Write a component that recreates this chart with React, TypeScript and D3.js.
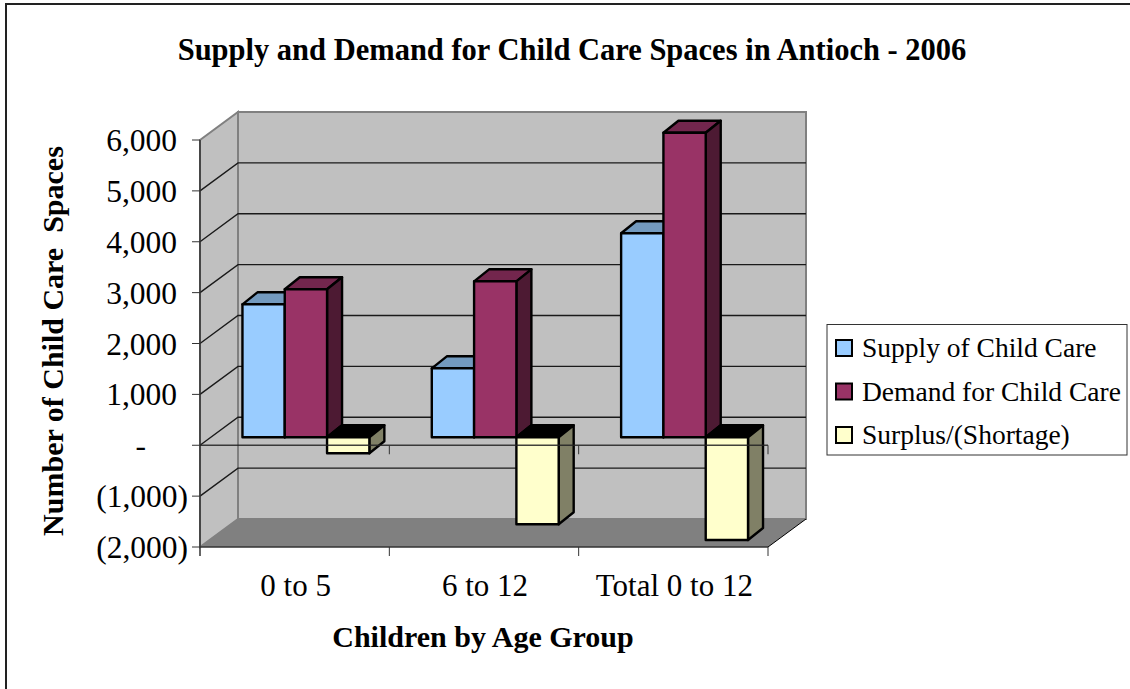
import * as d3 from 'd3';

const categories = ['0 to 5', '6 to 12', 'Total 0 to 12'];
const seriesNames = ['Supply of Child Care', 'Demand for Child Care', 'Surplus/(Shortage)'];
const supply = [2613, 1355, 4010];
const demand = [2908, 3065, 5985];
const surplus = [-314, -1710, -2020];
const seriesValues = [supply, demand, surplus];
const seriesColors = ['#99CCFF', '#993366', '#FFFFCC'];
const topColors = ['#739ABF', '#73264D', '#000000'];
const sideColors = ['#4D6680', '#4D1A33', '#808066'];
const yTicks = [6000, 5000, 4000, 3000, 2000, 1000, 0, -1000, -2000];
const yTickLabels = ['6,000', '5,000', '4,000', '3,000', '2,000', '1,000', '-', '(1,000)', '(2,000)'];

const width = 1130;
const height = 689;
const FONT = '"Liberation Serif", serif';

// front plane of the 3d box
const x0 = 200;
const x1 = 768;
const yTop = 140;
const yBottom = 547;
const WALL = { dx: 38, dy: -28 };
const BAR_PLANE = { dy: -8 };
const BAR_DEPTH = { dx: 15, dy: -12 };

const xScale = d3.scaleBand<string>().domain(categories).range([x0, x1]);
const yScale = d3.scaleLinear().domain([-2000, 6000]).range([yBottom, yTop]);
const seriesScale = d3
  .scaleBand<number>()
  .domain([0, 1, 2])
  .range([0, xScale.bandwidth()])
  .paddingInner(0)
  .paddingOuter(0.738)
  .align(0.68);

const pts = (list: [number, number][]) => list.map((p) => p.join(',')).join(' ');

const App = () => {
  const zero = yScale(0) + BAR_PLANE.dy;
  const backLeft = x0 + WALL.dx;
  const backRight = x1 + WALL.dx;
  const backTop = yTop + WALL.dy;
  const backBottom = yBottom + WALL.dy;

  const bars = seriesValues.flatMap((values, s) =>
    values.map((v, c) => {
      const left = (xScale(categories[c]) ?? 0) + (seriesScale(s) ?? 0);
      const right = left + seriesScale.bandwidth();
      const end = yScale(v) + BAR_PLANE.dy;
      const top = Math.min(zero, end);
      const bottom = Math.max(zero, end);
      const { dx, dy } = BAR_DEPTH;
      return { s, c, left, right, top, bottom, dx, dy };
    })
  );

  return (
    <svg
      width={width}
      height={height}
      style={{ position: 'absolute', left: 0, top: 0, fontFamily: FONT }}
    >
      <rect width={width} height={height} fill="white" />
      {/* only the top and left edges of the frame are in the picture */}
      <polyline points={pts([[6, height], [6, 4], [width, 4]])} fill="none" stroke="#222" strokeWidth={2} />
      <text x={572} y={60} textAnchor="middle" fontSize={30.5} fontWeight="bold">
        Supply and Demand for Child Care Spaces in Antioch - 2006
      </text>

      {/* walls */}
      <polygon points={pts([[backLeft, backTop], [backRight, backTop], [backRight, backBottom], [backLeft, backBottom]])} fill="#C0C0C0" stroke="#808080" strokeWidth={2} />
      <polygon points={pts([[x0, yTop], [backLeft, backTop], [backLeft, backBottom], [x0, yBottom]])} fill="#C0C0C0" stroke="#808080" strokeWidth={2} />
      <polygon points={pts([[x0, yBottom], [backLeft, backBottom], [backRight, backBottom], [x1, yBottom]])} fill="#808080" />
      <line x1={x1} y1={yBottom} x2={backRight} y2={backBottom} stroke="black" />

      {/* gridlines */}
      {yTicks.slice(1, -1).map((t) => (
        <polyline
          key={t}
          points={pts([[x0, yScale(t)], [backLeft, yScale(t) + WALL.dy], [backRight, yScale(t) + WALL.dy]])}
          stroke="#1a1a1a"
          strokeWidth={1.4}
          fill="none"
        />
      ))}

      {/* axes */}
      <line x1={x0} y1={yTop} x2={x0} y2={yBottom + 9} stroke="#333" strokeWidth={1.5} />
      <line x1={x0} y1={yBottom} x2={x1} y2={yBottom} stroke="#333" strokeWidth={1.5} />
      {yTicks.map((t, i) => (
        <g key={t}>
          <line x1={x0 - 8} x2={x0} y1={yScale(t)} y2={yScale(t)} stroke="#333" />
          <text x={t === 0 ? 146 : t < 0 ? 188 : 177} y={yScale(t) + 11} textAnchor="end" fontSize={31.5}>
            {yTickLabels[i]}
          </text>
        </g>
      ))}
      {categories.map((c) => (
        <text key={c} x={(xScale(c) ?? 0) + xScale.bandwidth() / 2 + 1} y={596} textAnchor="middle" fontSize={31}>
          {c}
        </text>
      ))}
      {categories.map((c) => {
        const x = (xScale(c) ?? 0) + xScale.bandwidth();
        return <line key={c} x1={x} x2={x} y1={yBottom} y2={yBottom + 9} stroke="#333" />;
      })}

      {/* bars */}
      {bars.map((b) => (
        <g key={`${b.s}-${b.c}`} stroke="black" strokeWidth={2.4} strokeLinejoin="round">
          <polygon
            points={pts([[b.left, b.top], [b.left + b.dx, b.top + b.dy], [b.right + b.dx, b.top + b.dy], [b.right, b.top]])}
            fill={topColors[b.s]}
          />
          <polygon
            points={pts([[b.right, b.top], [b.right + b.dx, b.top + b.dy], [b.right + b.dx, b.bottom + b.dy], [b.right, b.bottom]])}
            fill={sideColors[b.s]}
          />
          <rect x={b.left} y={b.top} width={b.right - b.left} height={b.bottom - b.top} fill={seriesColors[b.s]} />
        </g>
      ))}

      {/* zero line sits over the bars */}
      <line x1={x0} x2={x1} y1={yScale(0)} y2={yScale(0)} stroke="#222" strokeWidth={1.5} opacity={0.85} />
      {categories.map((c) => {
        const x = (xScale(c) ?? 0) + xScale.bandwidth();
        return <line key={c} x1={x} x2={x} y1={yScale(0)} y2={yScale(0) + 9} stroke="#333" />;
      })}

      <text x={483} y={647} textAnchor="middle" fontSize={30} fontWeight="bold">
        Children by Age Group
      </text>
      <text transform="translate(63,341) rotate(-90)" textAnchor="middle" fontSize={30} fontWeight="bold">
        {'Number of Child Care \u00A0Spaces'}
      </text>

      {/* legend */}
      <rect x={827} y={324.5} width={300} height={130.5} fill="white" stroke="#333" />
      {seriesNames.map((name, i) => (
        <g key={name}>
          <rect x={836} y={340 + i * 43.5} width={16} height={16} fill={seriesColors[i]} stroke="black" strokeWidth={2} />
          <text x={862} y={357 + i * 43.5} fontSize={27.5}>
            {name}
          </text>
        </g>
      ))}
    </svg>
  );
};

export default App;
